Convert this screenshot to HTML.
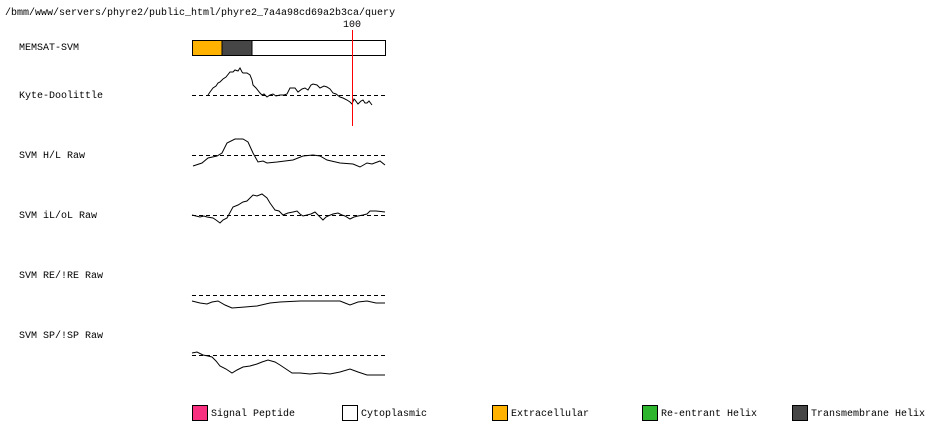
<!DOCTYPE html>
<html><head><style>body{margin:0;background:#fff}svg{display:block}text{font-family:"Liberation Mono",monospace;fill:#000}</style></head><body>
<svg width="950" height="435" xmlns="http://www.w3.org/2000/svg">
<text x="5" y="15" font-size="10">/bmm/www/servers/phyre2/public_html/phyre2_7a4a98cd69a2b3ca/query</text>
<text x="343" y="27" font-size="10">100</text>
<g font-size="10">
<text x="19" y="50">MEMSAT-SVM</text>
<text x="19" y="98">Kyte-Doolittle</text>
<text x="19" y="158">SVM H/L Raw</text>
<text x="19" y="218">SVM iL/oL Raw</text>
<text x="19" y="278">SVM RE/!RE Raw</text>
<text x="19" y="338">SVM SP/!SP Raw</text>
</g>
<rect x="192.5" y="40.5" width="193" height="15" fill="#fff" stroke="#000"/>
<rect x="193" y="41" width="29" height="14" fill="#FFB300"/>
<rect x="222" y="41" width="30" height="14" fill="#464646"/>
<line x1="222" y1="40.5" x2="222" y2="55.5" stroke="#000"/>
<line x1="252" y1="40.5" x2="252" y2="55.5" stroke="#000"/>
<g stroke="#000" stroke-dasharray="4,3" stroke-width="1">
<line x1="192" y1="95.5" x2="385" y2="95.5"/>
<line x1="192" y1="155.5" x2="385" y2="155.5"/>
<line x1="192" y1="215.5" x2="385" y2="215.5"/>
<line x1="192" y1="295.5" x2="385" y2="295.5"/>
<line x1="192" y1="355.5" x2="385" y2="355.5"/>
</g>
<g fill="none" stroke="#000" stroke-width="1">
<polyline points="208,95 210,92 213,88 216,86 218,83 220,82 223,79 226,77 230,72 233,72 235,70 238,71 240,68 242,72 243,73 247,73 250,75 252,80 253,85 256,88 260,93 262,95 264,94 267,97 270,95 273,94 276,96 280,95 284,95 287,94 290,88 293,88 295,88 298,92 302,89 305,88 308,90 311,85 313,84 317,85 320,88 324,86 327,87 330,89 333,93 336,94 340,97 343,98 347,100 350,102 352,104 354,99 355,100 358,104 361,101 363,100 365,103 367,103 369,101 372,105"/>
<polyline points="193,166 202,163 208,158 217,156 222,153 227,143 235,139 243,139 248,142 253,153 258,162 263,161 267,163 277,162 293,160 303,156 313,155 320,156 327,160 340,163 353,164 360,167 367,163 372,164 380,161 385,165"/>
<polyline points="192,215 196,216 200,217 204,216 207,217 213,218 216,220 220,223 223,220 227,218 233,207 238,205 243,202 247,201 250,198 253,195 257,196 262,194 267,198 270,203 275,210 279,211 283,215 288,213 293,212 297,211 300,214 303,216 307,215 311,214 315,212 318,215 323,220 326,217 328,216 333,214 338,213 342,215 345,216 350,219 354,217 358,216 363,215 367,214 370,211 376,211 385,212"/>
<polyline points="192,301 200,303 207,304 212,302 218,301 225,305 232,308 245,307 257,306 270,303 280,302 300,301 340,301 345,303 350,305 358,302 367,301 376,303 385,303"/>
<polyline points="192,353 197,352 203,355 208,356 212,357 216,361 220,366 226,369 232,373 237,370 243,367 250,366 257,364 262,362 268,360 275,362 280,365 286,369 292,373 300,373 310,374 320,373 330,374 340,372 350,369 358,372 367,375 376,375 385,375"/>
</g>
<line x1="352.5" y1="30" x2="352.5" y2="126" stroke="#f00"/>
<g stroke="#000" font-size="10">
<rect x="192.5" y="405.5" width="15" height="15" fill="#F7317F"/>
<rect x="342.5" y="405.5" width="15" height="15" fill="#fff"/>
<rect x="492.5" y="405.5" width="15" height="15" fill="#FFB300"/>
<rect x="642.5" y="405.5" width="15" height="15" fill="#2DB52D"/>
<rect x="792.5" y="405.5" width="15" height="15" fill="#464646"/>
</g>
<g font-size="10">
<text x="211" y="416">Signal Peptide</text>
<text x="361" y="416">Cytoplasmic</text>
<text x="511" y="416">Extracellular</text>
<text x="661" y="416">Re-entrant Helix</text>
<text x="811" y="416">Transmembrane Helix</text>
</g>
</svg>
</body></html>
